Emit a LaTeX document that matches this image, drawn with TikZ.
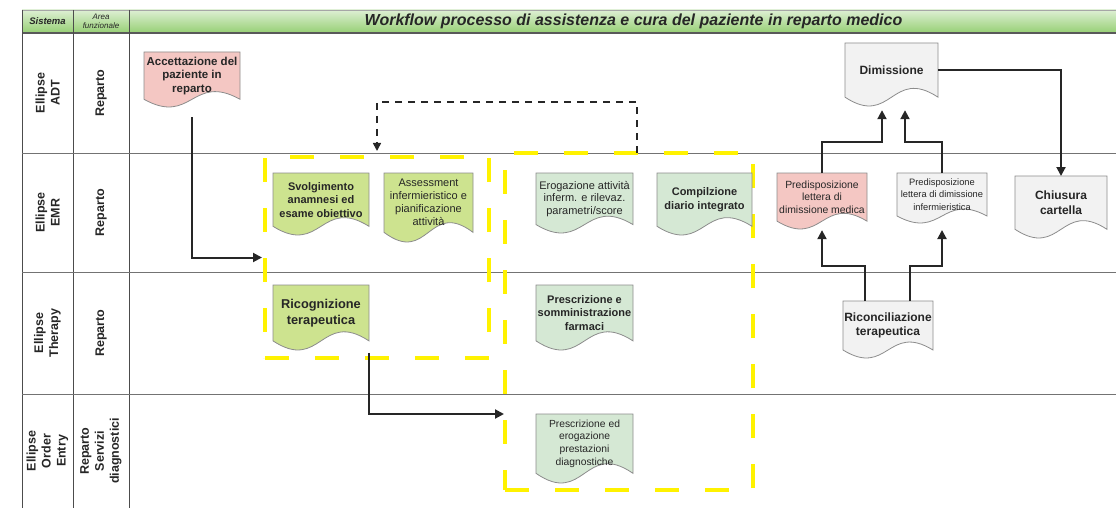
\documentclass[tikz,border=0pt]{standalone}
\usepackage{fontspec}
\setmainfont{Liberation Sans}
\usetikzlibrary{arrows.meta}

\definecolor{docpink}{HTML}{F4C7C3}
\definecolor{docgreen}{HTML}{CDE38F}
\definecolor{docmint}{HTML}{D5E8D4}
\definecolor{docgrey}{HTML}{F2F2F2}
\definecolor{hdtop}{HTML}{DDEFD3}
\definecolor{hdbot}{HTML}{96CF74}
\definecolor{grpyellow}{HTML}{FFF200}

\newcommand{\docfont}[2]{\fontsize{#1}{#2}\selectfont}

\tikzset{
  docline/.style={draw=black!45, line width=0.8pt},
  doctext/.style={align=center, inner sep=0pt, outer sep=0pt, text=black!85},
  grpbox/.style={draw=grpyellow, line width=3.5pt, dash pattern=on 24pt off 26pt, inner sep=0pt, outer sep=0pt},
  flow/.style={draw=black!85, line width=2pt, -{Triangle[length=9pt,width=9pt]}},
  dashflow/.style={draw=black!85, line width=1.6pt, dash pattern=on 7pt off 6pt, -{Triangle[length=8pt,width=8pt]}},
  lanelabel/.style={rotate=90, align=center, font=\bfseries\docfont{12.5}{15}, text=black!85},
  laneline/.style={draw=black!55, line width=0.8pt},
}

% document shape: name, fill, x1, y1, x2, y2 (bottom of the wave), font, text
\newcommand{\docnode}[8]{%
  \pgfmathsetmacro{\dd}{0.14*(#6-#4)}
  \pgfmathsetmacro{\hh}{#6-\dd-#4}
  \filldraw[docline, fill=#2] (#3,#4) -- (#5,#4) -- (#5,{#6-\dd})
    .. controls ({(#3+#5)/2},{#6-\dd-3.46*\dd}) and ({(#3+#5)/2},{#6-\dd+3.46*\dd}) .. (#3,{#6-\dd}) -- cycle;
  \node[doctext, font=#7, minimum width=#5pt-#3pt, minimum height=\hh pt] (#1) at ({(#3+#5)/2},{(#4+#6-\dd)/2}) {#8};
}

\begin{document}
\begin{tikzpicture}[x=1pt,y=-1pt]
\useasboundingbox (0,0) rectangle (1116,508);

% Header
\shade[top color=hdtop, bottom color=hdbot] (22,10) rectangle (1116,33);
\draw[black!35, line width=0.6pt] (22,10) -- (1116,10);
\draw[black!65, line width=1.4pt] (22,33) -- (1116,33);

% Lane lines
\draw[laneline, black!70] (22,10) -- (22,508);
\draw[laneline, black!70] (73,10) -- (73,508);
\draw[laneline, black!70] (129,10) -- (129,508);
\foreach \y in {153,272,394}
  \draw[laneline] (22,\y) -- (1116,\y);

% Header texts
\node[font=\bfseries\itshape\docfont{9.5}{10}, text=black!85] (sys) at (47.5,21.5) {Sistema};
\node[align=center, font=\itshape\docfont{8}{9}, text=black!85] (area) at (101,21.5) {Area\\funzionale};
\node[font=\bfseries\itshape\docfont{16}{17}, text=black!85] (title) at (633.5,21.5) {Workflow processo di assistenza e cura del paziente in reparto medico};

% Lanes
\node[lanelabel] (sysadt) at (47.5,93) {Ellipse\\ADT};
\node[lanelabel] (areaadt) at (101,93) {Reparto};
\node[lanelabel] (sysemr) at (47.5,212.5) {Ellipse\\EMR};
\node[lanelabel] (areaemr) at (101,212.5) {Reparto};
\node[lanelabel] (systhe) at (47.5,333) {Ellipse\\Therapy};
\node[lanelabel] (areathe) at (101,333) {Reparto};
\node[lanelabel] (sysord) at (47.5,451) {Ellipse\\Order\\Entry};
\node[lanelabel] (areaord) at (101,451) {Reparto\\Servizi\\diagnostici};

% Groups
\node[grpbox, minimum width=224pt, minimum height=201pt] (grpA) at (377,257.5) {};
\node[grpbox, minimum width=248pt, minimum height=337pt] (grpB) at (629,321.5) {};

% Documents
\docnode{acc}{docpink}{144}{52}{240}{107}{\bfseries\docfont{11.5}{13.5}}{Accettazione del\\paziente in\\reparto}
\docnode{svo}{docgreen}{273}{173}{369}{235}{\bfseries\docfont{11}{13.5}}{Svolgimento\\anamnesi ed\\esame obiettivo}
\docnode{ass}{docgreen}{384}{173}{473}{242}{\docfont{11}{13}}{Assessment\\infermieristico e\\pianificazione\\attività}
\docnode{ero}{docmint}{536}{173}{633}{233}{\docfont{11}{12.5}}{Erogazione attività\\inferm. e rilevaz.\\parametri/score}
\docnode{com}{docmint}{657}{173}{752}{235}{\bfseries\docfont{11}{13.5}}{Compilzione\\diario integrato}
\docnode{ric}{docgreen}{273}{285}{369}{350}{\bfseries\docfont{12.8}{16.5}}{Ricognizione\\terapeutica}
\docnode{psf}{docmint}{536}{285}{633}{350}{\bfseries\docfont{11}{13.5}}{Prescrizione e\\somministrazione\\farmaci}
\docnode{ped}{docmint}{536}{414}{633}{483}{\docfont{10.3}{12.8}}{Prescrizione ed\\erogazione\\prestazioni\\diagnostiche}
\docnode{dim}{docgrey}{845}{43}{938}{106}{\bfseries\docfont{12}{14}}{Dimissione}
\docnode{pdm}{docpink}{777}{173}{867}{229}{\docfont{10.4}{12.5}}{Predisposizione\\lettera di\\dimissione medica}
\docnode{pdi}{docgrey}{897}{173}{987}{223}{\docfont{9.3}{12.5}}{Predisposizione\\lettera di dimissione\\infermieristica}
\docnode{chi}{docgrey}{1015}{176}{1107}{238}{\bfseries\docfont{12}{14.5}}{Chiusura\\cartella}
\docnode{rc}{docgrey}{843}{301}{933}{358}{\bfseries\docfont{12}{14}}{Riconciliazione\\terapeutica}

% Connectors
\draw[flow, shorten <=18pt, shorten >=3pt] (acc.south) |- (grpA.west);
\draw[dashflow, shorten >=6pt] ([xshift=8pt]grpB.north) -- ++(0,-51) -| (grpA.north);
\draw[flow, shorten >=1pt] ([yshift=-12pt]ric.south east) |- (grpB.west |- ped.north);
\draw[flow] (dim.east) -| (chi.north);
\draw[flow, shorten >=13pt] (pdm.north) -- ++(0,-31) -| ([xshift=-9.5pt]dim.south);
\draw[flow, shorten >=13pt] (pdi.north) -- ++(0,-31) -| ([xshift=13.5pt]dim.south);
\draw[flow, shorten >=9pt] ([xshift=-23pt]rc.north) -- ++(0,-35) -| (pdm.south);
\draw[flow, shorten >=14pt] ([xshift=22pt]rc.north) -- ++(0,-35) -| (pdi.south);

\end{tikzpicture}
\end{document}
